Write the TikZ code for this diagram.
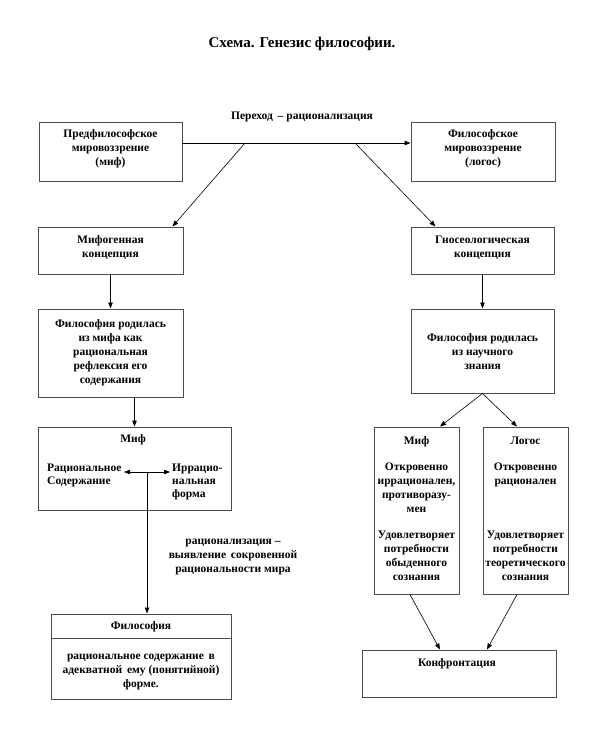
\documentclass[tikz,border=0pt]{standalone}
\usepackage{fontspec}
\setmainfont{Liberation Serif}
\usetikzlibrary{arrows.meta,calc}
\tikzset{
  box/.style={draw=black!70, line width=1pt, fill=white, inner sep=0pt},
  txt/.style={font=\bfseries\fontsize{11.5}{14}\selectfont, align=center, inner sep=0pt},
  ltxt/.style={font=\bfseries\fontsize{11.5}{13}\selectfont, align=left, inner sep=0pt},
  arr/.style={draw=black, line width=0.6pt, -{Triangle[length=6pt,width=4.5pt]}},
  darr/.style={draw=black, line width=0.6pt, {Triangle[length=6pt,width=4.5pt]}-{Triangle[length=6pt,width=4.5pt]}},
  ln/.style={draw=black, line width=0.6pt}
}
\begin{document}
\begin{tikzpicture}[x=1pt,y=-1pt]
\useasboundingbox[fill=white] (0,0) rectangle (594,750);

\node[font=\bfseries\fontsize{15}{17}\selectfont, inner sep=0pt] (title) at (302,44) {Схема. Генезис философии.};

% row 1
\node[box, minimum width=143pt, minimum height=59pt] (b1) at (110.5,151.5) {};
\node[txt] (t1) at (110.5,149) {Предфилософское\\мировоззрение\\(миф)};
\node[box, minimum width=144pt, minimum height=59pt] (b2) at (483,151.5) {};
\node[txt] (t2) at (483,149) {Философское\\мировоззрение\\(логос)};
\node[txt] (perehod) at (302,117) {Переход \,– рационализация};

\coordinate (j1) at (245,143);
\coordinate (j2) at (355,143);

% row 2
\node[box, minimum width=145pt, minimum height=47pt] (b3) at (110.5,250.5) {};
\node[txt] (t3) at (110.5,248) {Мифогенная\\концепция};
\node[box, minimum width=143pt, minimum height=47pt] (b4) at (482.5,250.5) {};
\node[txt] (t4) at (482.5,248) {Гносеологическая\\концепция};

% row 3
\node[box, minimum width=145pt, minimum height=88pt] (b5) at (110.5,353) {};
\node[txt] (t5) at (110.5,353) {Философия родилась\\из мифа как\\рациональная\\рефлексия его\\содержания};
\node[box, minimum width=143pt, minimum height=84pt] (b6) at (482.5,351) {};
\node[txt] (t6) at (482.5,352) {Философия родилась\\из научного\\знания};

% Myth box (left)
\node[box, minimum width=193pt, minimum height=83pt] (mif) at (134.5,468.5) {};
\node[txt] (mift) at (133,440) {Миф};
\node[ltxt, anchor=north west] (rat) at (47,464) {Рациональное\\Содержание};
\node[ltxt, anchor=north west] (irr) at (172,464) {Иррацио-\\нальная\\форма};
\coordinate (dl) at (124,472);
\coordinate (dr) at (170,472);
\coordinate (dm) at (147,472);

% right boxes
\node[box, minimum width=85pt, minimum height=167pt] (mif2) at (416.5,510.5) {};
\node[txt, anchor=base] (m2a) at (416.5,444) {Миф};
\node[txt, anchor=north] (m2b) at (416.5,463) {Откровенно\\иррационален,\\противоразу-\\мен};
\node[txt, anchor=north] (m2c) at (416.5,531) {Удовлетворяет\\потребности\\обыденного\\сознания};
\node[box, minimum width=85pt, minimum height=167pt] (logos) at (525.5,510.5) {};
\node[txt, anchor=base] (l2a) at (525.5,444) {Логос};
\node[txt, anchor=north] (l2b) at (525.5,463) {Откровенно\\рационален};
\node[txt, anchor=north] (l2c) at (525.5,531) {Удовлетворяет\\потребности\\теоретического\\сознания};

% label
\node[txt] (ratlab) at (233,557) {рационализация –\\выявление \,сокровенной\\рациональности мира};

% Philosophy box
\node[box, minimum width=180pt, minimum height=85pt] (fil) at (141,656.5) {};
\draw[draw=black!70, line width=1pt] (fil.west |- 0,638) -- (fil.east |- 0,638);
\node[txt] (filt) at (141,627) {Философия};
\node[txt] (filb) at (141,672) {рациональное содержание \,в\\адекватной \,ему (понятийной)\\форме.};

% Confrontation box
\node[box, minimum width=194pt, minimum height=47pt] (konf) at (459,673.5) {};
\node[txt] (konft) at (457,664) {Конфронтация};

% connectors
\draw[arr] (b1.east |- j1) -- (b2.west |- j1);
\draw[arr] (j1) -- ($(b3.north east)+(-11,0)$);
\draw[arr] (j2) -- ($(b4.north west)+(25,0)$);
\draw[arr] (b3.south) -- (b5.north);
\draw[arr] (b4.south) -- (b6.north);
\draw[arr] (b5.south -| mif.north) -- (mif.north);
\draw[arr] (b6.south) -- ($(mif2.north)+(23.5,0)$);
\draw[arr] (b6.south) -- ($(logos.north)+(-8.5,0)$);
\draw[darr] (dl) -- (dr);
\draw[arr] (dm) -- (dm |- fil.north);
\draw[arr] ($(mif2.south)+(-6.5,0)$) -- ($(konf.north)+(-19,0)$);
\draw[arr] ($(logos.south)+(-8.5,0)$) -- ($(konf.north)+(28,0)$);
\end{tikzpicture}
\end{document}
